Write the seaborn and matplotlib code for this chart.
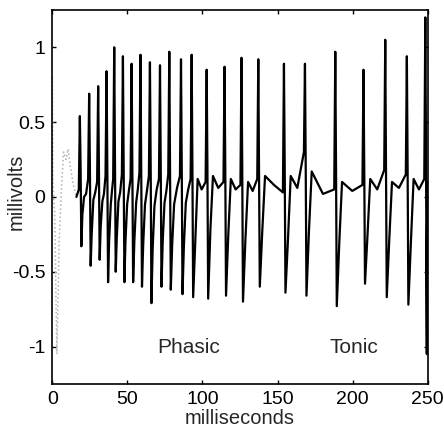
import pandas as pd
import matplotlib
matplotlib.use('Agg')
import matplotlib.pyplot as plt
import seaborn as sns

# spike train (ms, mV)
spike_ms = [18.3, 24.5, 30.5, 36.1, 41.2, 47.0, 52.8, 58.7, 65.0, 71.7, 77.9, 85.7, 92.8,
            102.8, 114.7, 126.0, 137.2, 154.3, 168.3, 188.5, 207.3, 221.8, 236.2, 248.5]
peak_mv = [0.54, 0.69, 0.74, 0.84, 1.00, 0.94, 0.89, 0.95, 0.90, 0.88, 0.97, 0.92, 0.95,
           0.85, 0.87, 0.93, 0.92, 0.89, 0.89, 0.97, 0.85, 1.05, 0.94, 1.20]
trough_mv = [-0.33, -0.46, -0.42, -0.57, -0.50, -0.57, -0.57, -0.60, -0.71, -0.60, -0.62, -0.65, -0.67,
             -0.68, -0.66, -0.70, -0.60, -0.64, -0.66, -0.73, -0.58, -0.67, -0.72, -1.05]
# level just before each spike
rest_mv = [0.05, 0.12, 0.10, 0.14, 0.12, 0.15, 0.12, 0.16, 0.14, 0.12, 0.15, 0.14, 0.12,
           0.10, 0.10, 0.08, 0.12, 0.03, 0.30, 0.05, 0.08, 0.18, 0.15, 0.12]
# recovery step after the trough, plateau level afterwards, mid-interval level
dip_mv = [-0.12, -0.25, -0.20, -0.30, -0.28, -0.30, -0.30, -0.32, -0.35, -0.30, -0.32, -0.33, -0.30,
          -0.21, -0.25, -0.28, -0.22, -0.28, -0.22, -0.30, -0.25, -0.28, -0.30, -0.40]
hump_mv = [0.00, -0.02, -0.03, -0.05, -0.03, -0.05, -0.04, -0.05, -0.06, -0.04, -0.05, -0.04, 0.12,
           0.14, 0.12, 0.10, 0.14, 0.14, 0.17, 0.10, 0.12, 0.10, 0.12, 0.10]
mid_mv = [0.02, 0.03, 0.02, 0.04, 0.03, 0.04, 0.05, 0.04, 0.05, 0.04, 0.06, 0.05, 0.05,
          0.06, 0.05, 0.04, 0.08, 0.06, 0.02, 0.04, 0.05, 0.06, 0.05, 0.10]
recover_ms = [2.8, 2.8, 2.8, 2.8, 2.8, 2.8, 3.0, 3.0, 3.0, 3.0, 3.2, 3.2, 4.0,
              4.2, 4.2, 4.4, 4.5, 4.5, 4.5, 4.5, 4.5, 4.5, 4.5, 1.5]

# onset transient drawn in grey
onset_ms = [0.0, 0.4, 1.5, 3.0, 4.5, 6.0, 7.5, 9.0, 10.5, 12.0, 14.0, 16.0]
onset_mv = [0.80, 0.05, -0.10, -1.05, -0.30, 0.05, 0.30, 0.25, 0.32, 0.20, 0.08, 0.00]

t, v = [onset_ms[-1]], [onset_mv[-1]]
for i, ts in enumerate(spike_ms):
    t += [ts - 0.7, ts, ts + 0.5, ts + 1.0, ts + 0.6 * recover_ms[i], ts + recover_ms[i]]
    v += [rest_mv[i], peak_mv[i], 0.2, trough_mv[i], dip_mv[i], hump_mv[i]]
    if i + 1 < len(spike_ms):
        t.append((ts + recover_ms[i] + spike_ms[i + 1] - 0.7) / 2)
        v.append(mid_mv[i])
trace = pd.DataFrame({'ms': t, 'mv': v})
trace = trace[trace['ms'] <= 250]
onset = pd.DataFrame({'ms': onset_ms, 'mv': onset_mv})

sns.set_style('ticks')
plt.rcParams['font.family'] = ['Liberation Sans', 'DejaVu Sans']
plt.rcParams['axes.unicode_minus'] = False

fig = plt.figure(figsize=(4.44, 4.29), dpi=100)
ax = fig.add_axes([0.118, 0.105, 0.845, 0.872])

sns.lineplot(data=onset, x='ms', y='mv', ax=ax, color='#b0b0b0', lw=1.1, ls=':',
             sort=False, estimator=None)
sns.lineplot(data=trace, x='ms', y='mv', ax=ax, color='black', lw=1.6,
             sort=False, estimator=None)

ax.set_xlim(0, 250)
ax.set_ylim(-1.25, 1.25)
ax.set_xticks([0, 50, 100, 150, 200, 250])
ax.set_xticklabels(['0', '50', '100', '150', '200', '250'])
ax.set_yticks([-1, -0.5, 0, 0.5, 1])
ax.set_yticklabels(['-1', '-0.5', '0', '0.5', '1'])
ax.tick_params(direction='in', length=3, width=1, top=True, right=True,
               labelsize=14, colors='black')
ax.tick_params(axis='x', pad=5)
ax.tick_params(axis='y', pad=5)
for s in ax.spines.values():
    s.set_visible(True)
    s.set_linewidth(1.2)
    s.set_color('black')

ax.set_xlabel('milliseconds', fontsize=14.5)
ax.set_ylabel('millivolts', fontsize=14.5)
ax.xaxis.set_label_coords(0.5, -0.066)
ax.yaxis.set_label_coords(-0.071, 0.513)

ax.text(70, -1.04, 'Phasic', fontsize=15, va='baseline')
ax.text(184.5, -1.04, 'Tonic', fontsize=15, va='baseline')

fig.savefig('out.png', dpi=100)
